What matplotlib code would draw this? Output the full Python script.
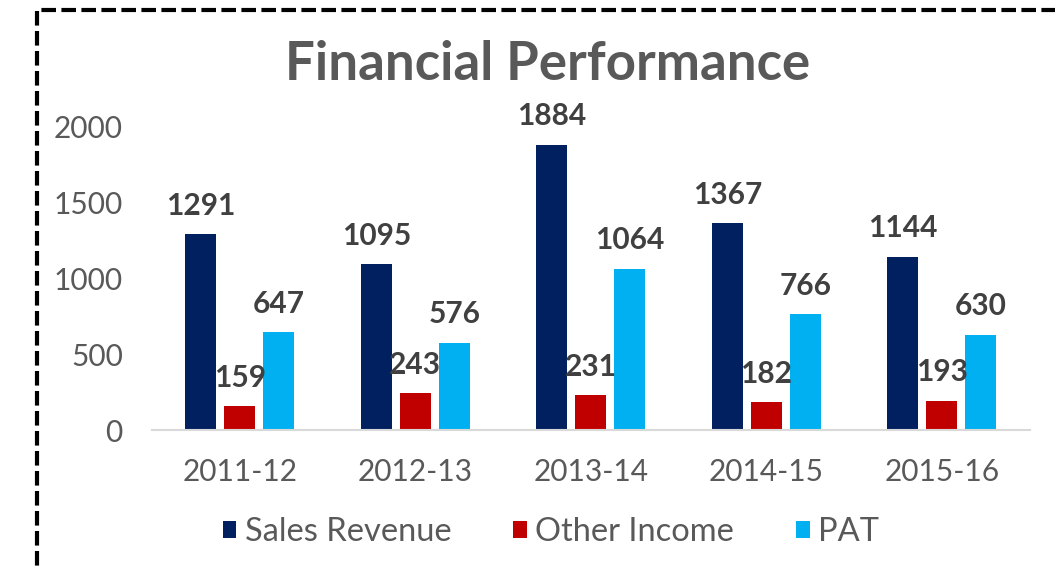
import numpy as np
import matplotlib
matplotlib.use("Agg")
import matplotlib.pyplot as plt
from matplotlib.patches import Rectangle

years = ["2011-12", "2012-13", "2013-14", "2014-15", "2015-16"]
sales_revenue = [1291, 1095, 1884, 1367, 1144]
other_income = [159, 243, 231, 182, 193]
pat = [647, 576, 1064, 766, 630]

series = [("Sales Revenue", sales_revenue, "#002060"),
          ("Other Income", other_income, "#C00000"),
          ("PAT", pat, "#00B0F0")]

plt.rcParams['font.family'] = ['Lato', 'DejaVu Sans']
text_gray = "#595959"
label_gray = "#404040"

fig = plt.figure(figsize=(10.55, 5.70), dpi=100)
ax = fig.add_axes([0.144, 0.2456, 0.832, 0.5316])

x = np.arange(len(years))
width = 0.176
step = 0.222
for i, (name, vals, color) in enumerate(series):
    pos = x + (i - 1) * step
    bars = ax.bar(pos, vals, width=width, color=color, label=name, zorder=2)
    for b, v in zip(bars, vals):
        ax.text(b.get_x() + b.get_width() / 2, v + 95, str(v),
                ha="center", va="bottom", fontsize=21.5, fontweight="bold",
                color=label_gray, clip_on=False)

ax.set_xlim(-0.5, len(years) - 0.5)
ax.set_ylim(0, 2000)
ax.set_yticks([0, 500, 1000, 1500, 2000])
ax.set_xticks(x)
ax.set_xticklabels(years)
ax.tick_params(axis="both", length=0, labelsize=21.5, labelcolor=text_gray)
ax.tick_params(axis="x", pad=20)
ax.tick_params(axis="y", pad=21)
for s in ["top", "right", "left"]:
    ax.spines[s].set_visible(False)
ax.spines["bottom"].set_color("#D9D9D9")
ax.spines["bottom"].set_linewidth(1.5)

fig.text(0.519, 0.886, "Financial Performance", ha="center", va="center",
         fontsize=38, fontweight="bold", color=text_gray)

leg = fig.legend(loc="center", bbox_to_anchor=(0.522, 0.066), ncol=3,
                 frameon=False, fontsize=23.5, handlelength=0.42, handleheight=0.42,
                 handletextpad=0.25, columnspacing=1.9)
for t in leg.get_texts():
    t.set_color(text_gray)

# dashed outer border, running off the right and bottom edges
border = Rectangle((0.035, -0.05), 1.0, 1.032, transform=fig.transFigure,
                   fill=False, edgecolor="black", linewidth=3,
                   linestyle=(0, (3.5, 1.3)), clip_on=False)
fig.patches.append(border)

fig.savefig("out.png", dpi=100)
